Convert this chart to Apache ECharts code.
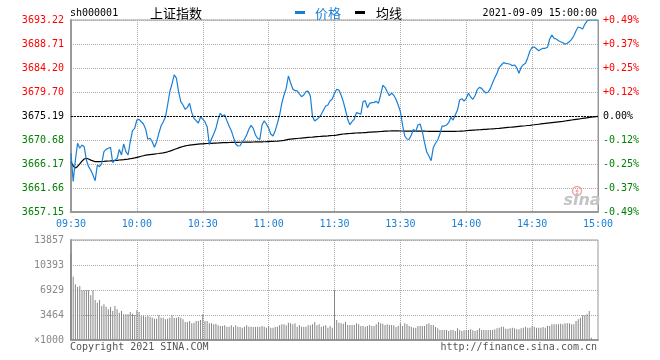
<!DOCTYPE html>
<html><head><meta charset="utf-8">
<script src="https://cdn.jsdelivr.net/npm/echarts@6/dist/echarts.min.js"></script>
<style>html,body{margin:0;padding:0;background:#fff}#c{width:660px;height:360px}</style>
</head><body><div id="c"></div>
<script>
const preClose = 3675.19;
const priceTicks = [3657.15, 3661.66, 3666.17, 3670.68, 3675.19, 3679.70, 3684.20, 3688.71, 3693.22];
const pctTicks = ['-0.49%', '-0.37%', '-0.25%', '-0.12%', '0.00%', '+0.12%', '+0.25%', '+0.37%', '+0.49%'];
const volTicks = [0, 3464.25, 6928.5, 10392.75, 13857];
const volTickLabels = ['\u00d71000', '3464', '6929', '10393', '13857'];

const price = [
3668.18,3662.90,3666.92,3670.06,3669.12,3669.74,3669.42,3666.92,3665.66,3665.04,
3664.10,3663.03,3665.98,3665.66,3666.29,3668.48,3668.92,3669.12,3669.30,3666.42,
3666.92,3667.20,3668.90,3667.86,3669.93,3668.50,3667.86,3670.36,3672.43,3672.87,
3674.43,3674.56,3674.11,3673.68,3672.70,3670.81,3671.00,3670.36,3669.30,3670.36,
3671.93,3673.31,3674.11,3674.94,3677.25,3679.75,3681.20,3682.90,3682.30,3679.75,
3677.88,3677.25,3676.44,3676.80,3677.57,3675.82,3674.75,3674.30,3673.87,3675.00,
3674.60,3674.12,3673.18,3669.80,3670.90,3671.80,3672.87,3674.56,3675.69,3675.19,
3675.40,3674.30,3673.31,3672.43,3671.18,3669.93,3669.55,3669.60,3670.36,3670.80,
3671.62,3672.68,3673.43,3672.87,3671.62,3670.99,3670.80,3673.49,3674.30,3673.68,
3672.87,3671.80,3671.43,3672.43,3673.81,3675.37,3677.57,3679.13,3680.38,3682.70,
3681.44,3680.26,3679.94,3679.90,3679.32,3678.82,3679.13,3679.75,3679.85,3678.94,
3675.07,3674.25,3674.56,3674.94,3675.50,3676.31,3677.06,3677.25,3678.06,3678.38,
3679.45,3680.20,3680.07,3679.13,3677.88,3676.31,3674.56,3673.56,3674.12,3674.62,
3675.81,3675.69,3675.50,3677.88,3678.06,3676.75,3677.57,3677.69,3677.75,3677.94,
3677.57,3679.13,3680.95,3680.57,3679.75,3679.00,3679.50,3679.07,3678.32,3677.25,
3676.00,3673.49,3671.43,3670.86,3670.80,3671.62,3672.68,3672.24,3673.49,3673.68,
3672.24,3670.18,3668.42,3667.67,3666.79,3669.23,3670.06,3670.68,3671.80,3673.31,
3673.30,3673.49,3673.93,3674.94,3674.43,3675.37,3676.31,3678.19,3678.44,3678.00,
3678.51,3679.45,3678.75,3678.32,3679.00,3680.13,3680.57,3680.38,3679.88,3679.50,
3679.69,3680.38,3681.44,3682.38,3683.20,3684.33,3684.77,3685.20,3685.08,3685.00,
3684.90,3684.64,3684.77,3684.26,3683.20,3684.33,3684.83,3685.08,3686.14,3687.40,
3688.09,3688.15,3687.83,3687.45,3687.71,3687.90,3687.90,3688.09,3689.65,3690.40,
3689.78,3689.65,3689.33,3689.14,3688.96,3688.65,3688.84,3689.14,3689.59,3690.27,
3691.21,3691.90,3691.77,3691.53,3692.41,3693.03,3693.22,3693.22,3693.22,3693.22,
3693.22
];

const avgPrice = [
3666.60,3665.80,3665.40,3665.70,3666.20,3666.70,3667.10,3667.24,3667.10,3666.90,
3666.75,3666.60,3666.60,3666.62,3666.64,3666.66,3666.70,3666.73,3666.76,3666.80,
3666.83,3666.86,3666.92,3666.96,3667.00,3667.05,3667.10,3667.16,3667.24,3667.32,
3667.42,3667.52,3667.62,3667.72,3667.82,3667.88,3667.94,3667.99,3668.04,3668.09,
3668.14,3668.20,3668.27,3668.36,3668.46,3668.58,3668.72,3668.88,3669.04,3669.20,
3669.34,3669.46,3669.56,3669.64,3669.71,3669.77,3669.82,3669.86,3669.90,3669.93,
3669.96,3669.99,3670.02,3670.04,3670.06,3670.08,3670.10,3670.12,3670.15,3670.17,
3670.19,3670.20,3670.21,3670.22,3670.23,3670.24,3670.24,3670.25,3670.25,3670.26,
3670.27,3670.28,3670.29,3670.30,3670.31,3670.32,3670.33,3670.34,3670.35,3670.36,
3670.38,3670.40,3670.42,3670.44,3670.46,3670.50,3670.55,3670.62,3670.70,3670.78,
3670.84,3670.88,3670.92,3670.96,3671.00,3671.04,3671.08,3671.12,3671.16,3671.19,
3671.22,3671.26,3671.30,3671.33,3671.36,3671.39,3671.42,3671.45,3671.49,3671.52,
3671.55,3671.60,3671.68,3671.74,3671.80,3671.84,3671.87,3671.90,3671.93,3671.96,
3671.99,3672.01,3672.03,3672.05,3672.08,3672.11,3672.14,3672.17,3672.20,3672.22,
3672.24,3672.27,3672.30,3672.33,3672.35,3672.37,3672.38,3672.38,3672.38,3672.38,
3672.37,3672.37,3672.36,3672.36,3672.35,3672.35,3672.34,3672.34,3672.34,3672.34,
3672.34,3672.33,3672.32,3672.31,3672.30,3672.29,3672.28,3672.28,3672.28,3672.28,
3672.29,3672.29,3672.30,3672.30,3672.31,3672.31,3672.32,3672.33,3672.35,3672.37,
3672.45,3672.47,3672.50,3672.53,3672.55,3672.58,3672.60,3672.63,3672.66,3672.68,
3672.71,3672.74,3672.77,3672.80,3672.84,3672.87,3672.91,3672.95,3672.99,3673.03,
3673.07,3673.11,3673.15,3673.19,3673.23,3673.27,3673.31,3673.35,3673.40,3673.44,
3673.49,3673.54,3673.59,3673.64,3673.69,3673.74,3673.79,3673.84,3673.89,3673.94,
3673.99,3674.04,3674.09,3674.14,3674.19,3674.25,3674.31,3674.37,3674.43,3674.49,
3674.55,3674.61,3674.67,3674.73,3674.79,3674.85,3674.91,3674.97,3675.02,3675.06,
3675.10
];

const volume = [
12000,8771,7715,7344,7483,6882,6882,6882,6882,6189,
6882,5543,5173,5543,4711,4943,4619,4250,4573,4019,
4711,4250,3788,4019,3557,3557,3557,3880,3649,3464,
4111,3880,3326,3326,3233,3326,3233,3095,2956,2956,
3418,3095,3095,2864,2956,3095,3418,3095,3095,3187,
3095,2864,2494,2494,2633,2310,2402,2633,2633,2771,
3557,2633,2633,2310,2310,2171,2263,2032,1940,1940,
2032,1848,1848,2032,1801,2032,1848,1801,1709,1848,
2032,1848,1848,1801,1801,1848,1801,1940,1848,1709,
1940,1709,1709,1801,1848,2032,2171,2171,2032,2402,
2310,2171,2310,1848,2032,1848,1848,1848,2032,2032,
2171,2494,2032,2171,1848,1940,2032,1709,1940,1709,
6929,2771,2402,2310,2263,2494,2079,2079,2079,2079,
2310,2171,1940,1940,1848,1940,2079,1940,1940,2171,
2494,2310,2263,2079,2171,2079,2079,2032,1801,1940,
2310,1940,2310,2171,1940,1801,1709,1709,1940,1940,
1940,1940,2171,2310,2079,2079,1801,1617,1386,1386,
1386,1386,1247,1386,1386,1247,1617,1386,1247,1340,
1386,1386,1478,1340,1247,1386,1617,1386,1386,1386,
1386,1386,1386,1478,1617,1709,1848,1848,1570,1570,
1617,1709,1617,1478,1478,1617,1709,1848,1709,1709,
1940,1848,1709,1709,1709,1801,1709,1940,1940,2171,
2171,2171,2171,2263,2171,2310,2310,2310,2171,2171,
2633,2864,3095,3418,3418,3557,4019,320,0,0,
0
];

function pad(n) { return (n < 10 ? '0' : '') + n; }
const times = [];
for (let m = 0; m <= 120; m++) { const t = 570 + m; times.push(pad(Math.floor(t / 60)) + ':' + pad(t % 60)); }
for (let m = 1; m <= 120; m++) { const t = 780 + m; times.push(pad(Math.floor(t / 60)) + ':' + pad(t % 60)); }

const MONO = '"DejaVu Sans Mono", "Liberation Mono", monospace';
const CJK = '"Noto Sans CJK SC", sans-serif';
const BLUE = '#1a7fd4';
const GRID_LINE = { color: '#aaa', type: 'dotted', width: 1 };
const isHalfHour = (i) => i % 30 === 0;
const inner30 = (i) => i % 30 === 0 && i > 0 && i < 240;

function labelColor(v) {
  const n = parseFloat(v);
  if (n > preClose + 0.001) return '#ff0000';
  if (n < preClose - 0.001) return '#008000';
  return '#000';
}
function pctFor(v) {
  const n = parseFloat(v);
  const idx = priceTicks.findIndex(p => Math.abs(p - n) < 0.01);
  return idx >= 0 ? pctTicks[idx] : '';
}
function volLabel(v) {
  const n = parseFloat(v);
  const idx = volTicks.findIndex(p => Math.abs(p - n) < 0.5);
  return idx >= 0 ? volTickLabels[idx] : '';
}

const chart = echarts.init(document.getElementById('c'), null, { renderer: 'canvas' });
chart.setOption({
  animation: false,
  backgroundColor: '#fff',
  grid: [
    { left: 71, right: 62, top: 20, height: 192, show: true, borderColor: '#999', borderWidth: 1 },
    { left: 71, right: 62, top: 240, height: 100, show: true, borderColor: '#999', borderWidth: 1 }
  ],
  xAxis: [
    {
      gridIndex: 0, type: 'category', data: times, boundaryGap: false,
      axisLine: { show: true, lineStyle: { color: '#999', width: 2 } },
      axisTick: { show: false },
      axisLabel: { interval: isHalfHour, color: BLUE, fontFamily: MONO, fontSize: 10, margin: 7 },
      splitLine: { show: true, interval: inner30, lineStyle: GRID_LINE }
    },
    {
      gridIndex: 1, type: 'category', data: times, boundaryGap: false,
      axisLine: { show: true, lineStyle: { color: '#999', width: 2 } },
      axisTick: { show: false },
      axisLabel: { show: false },
      splitLine: { show: true, interval: inner30, lineStyle: GRID_LINE }
    }
  ],
  yAxis: [
    {
      gridIndex: 0, type: 'value', position: 'left', min: priceTicks[0], max: priceTicks[priceTicks.length - 1],
      axisLine: { show: true, lineStyle: { color: '#999', width: 2 } },
      axisTick: { show: false, customValues: priceTicks },
      axisLabel: { customValues: priceTicks, formatter: (v) => Number(v).toFixed(2), color: labelColor, fontFamily: MONO, fontSize: 10, margin: 7 },
      splitLine: { show: true, lineStyle: GRID_LINE }
    },
    {
      gridIndex: 0, type: 'value', position: 'right', min: priceTicks[0], max: priceTicks[priceTicks.length - 1],
      axisLine: { show: true, lineStyle: { color: '#999', width: 1 } },
      axisTick: { show: false, customValues: priceTicks },
      axisLabel: { customValues: priceTicks, formatter: pctFor, color: labelColor, fontFamily: MONO, fontSize: 10, margin: 5 },
      splitLine: { show: false }
    },
    {
      gridIndex: 1, type: 'value', position: 'left', min: 0, max: volTicks[volTicks.length - 1], interval: volTicks[1],
      axisLine: { show: true, lineStyle: { color: '#999', width: 2 } },
      axisTick: { show: false },
      axisLabel: { formatter: volLabel, color: '#888', fontFamily: MONO, fontSize: 10, margin: 7 },
      splitLine: { show: true, lineStyle: GRID_LINE }
    }
  ],
  series: [
    {
      name: '价格', type: 'line', xAxisIndex: 0, yAxisIndex: 0, data: price,
      showSymbol: false, symbol: 'none', z: 4,
      lineStyle: { color: BLUE, width: 1.2 },
      markLine: {
        silent: true, symbol: 'none', label: { show: false },
        lineStyle: { color: '#000', type: [2, 1], width: 1 },
        data: [{ yAxis: preClose }]
      }
    },
    {
      name: '均线', type: 'line', xAxisIndex: 0, yAxisIndex: 0, data: avgPrice,
      showSymbol: false, symbol: 'none', z: 3,
      lineStyle: { color: '#000', width: 1.2 }
    },
    {
      name: '成交量', type: 'bar', xAxisIndex: 1, yAxisIndex: 2, data: volume,
      barWidth: 1, itemStyle: { color: '#858585' }
    }
  ],
  graphic: [
    { type: 'text', style: { text: 'sh000001', x: 70, y: 13, verticalAlign: 'middle', font: '10px ' + MONO, fill: '#000' } },
    { type: 'text', style: { text: '上证指数', x: 150, y: 13, verticalAlign: 'middle', font: '13px ' + CJK, fill: '#000' } },
    { type: 'rect', shape: { x: 295, y: 11, width: 10, height: 3 }, style: { fill: BLUE } },
    { type: 'text', style: { text: '价格', x: 315, y: 13, verticalAlign: 'middle', font: '13px ' + CJK, fill: BLUE } },
    { type: 'rect', shape: { x: 355, y: 11, width: 10, height: 3 }, style: { fill: '#000' } },
    { type: 'text', style: { text: '均线', x: 376, y: 13, verticalAlign: 'middle', font: '13px ' + CJK, fill: '#000' } },
    { type: 'text', style: { text: '2021-09-09 15:00:00', x: 597, y: 13, align: 'right', verticalAlign: 'middle', font: '10px ' + MONO, fill: '#000' } },
    { type: 'text', style: { text: 'Copyright 2021 SINA.COM', x: 70, y: 347, verticalAlign: 'middle', font: '10px ' + MONO, fill: '#555' } },
    { type: 'text', style: { text: 'http://finance.sina.com.cn', x: 597, y: 347, align: 'right', verticalAlign: 'middle', font: '10px ' + MONO, fill: '#555' } },
    { type: 'circle', shape: { cx: 577, cy: 191, r: 4.5 }, style: { fill: 'none', stroke: '#f2a8a8', lineWidth: 1.5 }, z: 1 },
    { type: 'circle', shape: { cx: 577, cy: 191, r: 1.5 }, style: { fill: '#f2a8a8' }, z: 1 },
    { type: 'text', style: { text: 'sina', x: 582, y: 201, align: 'center', verticalAlign: 'middle', font: 'italic bold 16px "DejaVu Sans", sans-serif', fill: '#c4c4c4' }, z: 1 }
  ]
});
</script>
</body></html>
